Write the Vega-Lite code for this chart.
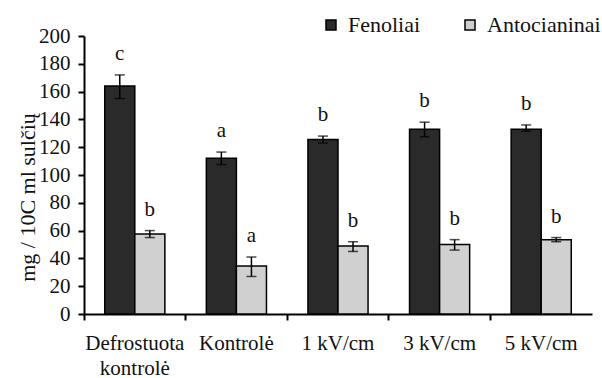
{
  "$schema": "https://vega.github.io/schema/vega-lite/v6.json",
  "width": 508,
  "height": 278,
  "autosize": "none",
  "padding": {"left": 84, "top": 36, "right": 10, "bottom": 64},
  "background": "white",
  "config": {
    "view": {"stroke": null},
    "axis": {
      "labelFont": "Liberation Serif",
      "titleFont": "Liberation Serif",
      "labelColor": "#111",
      "labelOverlap": false,
      "domainColor": "#000",
      "domainWidth": 2,
      "tickColor": "#000",
      "tickWidth": 2,
      "tickSize": 6,
      "grid": false
    },
    "axisX": {"labelFontSize": 21},
    "axisY": {"labelFontSize": 21},
    "legend": {"labelFont": "Liberation Serif", "labelFontSize": 22, "labelColor": "#111"},
    "text": {"font": "Liberation Serif"}
  },
  "data": {
    "values": [
      {"cat": "Defrostuota kontrolė", "series": "Fenoliai", "value": 164, "lo": 155, "hi": 172, "letter": "c"},
      {"cat": "Defrostuota kontrolė", "series": "Antocianinai", "value": 57.5, "lo": 55, "hi": 60, "letter": "b"},
      {"cat": "Kontrolė", "series": "Fenoliai", "value": 112, "lo": 107.5, "hi": 116.5, "letter": "a"},
      {"cat": "Kontrolė", "series": "Antocianinai", "value": 34.5, "lo": 27, "hi": 41, "letter": "a"},
      {"cat": "1 kV/cm", "series": "Fenoliai", "value": 125.5, "lo": 123, "hi": 128, "letter": "b"},
      {"cat": "1 kV/cm", "series": "Antocianinai", "value": 49, "lo": 45, "hi": 52, "letter": "b"},
      {"cat": "3 kV/cm", "series": "Fenoliai", "value": 133, "lo": 127.5, "hi": 138, "letter": "b"},
      {"cat": "3 kV/cm", "series": "Antocianinai", "value": 50, "lo": 46, "hi": 53.5, "letter": "b"},
      {"cat": "5 kV/cm", "series": "Fenoliai", "value": 133, "lo": 131.5, "hi": 136, "letter": "b"},
      {"cat": "5 kV/cm", "series": "Antocianinai", "value": 53.5, "lo": 52, "hi": 55, "letter": "b"}
    ]
  },
  "encoding": {
    "x": {
      "field": "cat",
      "type": "nominal",
      "sort": ["Defrostuota kontrolė", "Kontrolė", "1 kV/cm", "3 kV/cm", "5 kV/cm"],
      "scale": {"paddingInner": 0, "paddingOuter": 0},
      "axis": {
        "title": null,
        "labelAngle": 0,
        "labelPadding": 12,
        "labelLineHeight": 25,
        "labelExpr": "datum.label == 'Defrostuota kontrolė' ? ['Defrostuota', 'kontrolė'] : datum.label",
        "bandPosition": 0
      }
    },
    "xOffset": {
      "field": "series",
      "type": "nominal",
      "sort": ["Fenoliai", "Antocianinai"],
      "scale": {"paddingInner": 0, "paddingOuter": 0.69}
    }
  },
  "layer": [
    {
      "mark": {"type": "bar", "stroke": "#000", "strokeWidth": 1.5},
      "encoding": {
        "y": {
          "field": "value",
          "type": "quantitative",
          "scale": {"domain": [0, 200], "nice": false},
          "axis": {
            "title": "mg / 10C ml sulčių",
            "titleFontSize": 22,
            "titleFontWeight": "normal",
            "titleColor": "#111",
            "titleX": -57,
            "titleY": 161,
            "titleAngle": -90,
            "titleBaseline": "middle",
            "titleAlign": "center",
            "values": [0, 20, 40, 60, 80, 100, 120, 140, 160, 180, 200],
            "labelOverlap": false,
            "labelPadding": 8
          }
        },
        "color": {
          "field": "series",
          "type": "nominal",
          "sort": ["Fenoliai", "Antocianinai"],
          "scale": {"domain": ["Fenoliai", "Antocianinai"], "range": ["#2a2a2a", "#d0d0d0"]},
          "legend": {
            "title": null,
            "orient": "none",
            "direction": "horizontal",
            "legendX": 236,
            "legendY": -22,
            "symbolType": "square",
            "symbolSize": 100,
            "symbolStrokeColor": "#000",
            "symbolStrokeWidth": 1.5,
            "labelOffset": 6,
            "columnPadding": 38
          }
        }
      }
    },
    {
      "mark": {"type": "rule", "color": "#000", "strokeWidth": 1.5},
      "encoding": {
        "y": {
          "field": "lo",
          "type": "quantitative",
          "axis": {
            "title": "mg / 10C ml sulčių",
            "titleFontSize": 22,
            "titleFontWeight": "normal",
            "titleColor": "#111",
            "titleX": -57,
            "titleY": 161,
            "titleAngle": -90,
            "titleBaseline": "middle",
            "titleAlign": "center",
            "values": [0, 20, 40, 60, 80, 100, 120, 140, 160, 180, 200],
            "labelOverlap": false,
            "labelPadding": 8
          }
        },
        "y2": {"field": "hi"}
      }
    },
    {
      "mark": {"type": "tick", "color": "#000", "thickness": 1.5, "size": 10, "orient": "horizontal"},
      "encoding": {
        "y": {
          "field": "lo",
          "type": "quantitative",
          "axis": {
            "title": "mg / 10C ml sulčių",
            "titleFontSize": 22,
            "titleFontWeight": "normal",
            "titleColor": "#111",
            "titleX": -57,
            "titleY": 161,
            "titleAngle": -90,
            "titleBaseline": "middle",
            "titleAlign": "center",
            "values": [0, 20, 40, 60, 80, 100, 120, 140, 160, 180, 200],
            "labelOverlap": false,
            "labelPadding": 8
          }
        }
      }
    },
    {
      "mark": {"type": "tick", "color": "#000", "thickness": 1.5, "size": 10, "orient": "horizontal"},
      "encoding": {
        "y": {
          "field": "hi",
          "type": "quantitative",
          "axis": {
            "title": "mg / 10C ml sulčių",
            "titleFontSize": 22,
            "titleFontWeight": "normal",
            "titleColor": "#111",
            "titleX": -57,
            "titleY": 161,
            "titleAngle": -90,
            "titleBaseline": "middle",
            "titleAlign": "center",
            "values": [0, 20, 40, 60, 80, 100, 120, 140, 160, 180, 200],
            "labelOverlap": false,
            "labelPadding": 8
          }
        }
      }
    },
    {
      "mark": {"type": "text", "font": "Liberation Serif", "fontSize": 21, "color": "#111", "baseline": "middle", "dy": -21},
      "encoding": {
        "y": {
          "field": "hi",
          "type": "quantitative",
          "axis": {
            "title": "mg / 10C ml sulčių",
            "titleFontSize": 22,
            "titleFontWeight": "normal",
            "titleColor": "#111",
            "titleX": -57,
            "titleY": 161,
            "titleAngle": -90,
            "titleBaseline": "middle",
            "titleAlign": "center",
            "values": [0, 20, 40, 60, 80, 100, 120, 140, 160, 180, 200],
            "labelOverlap": false,
            "labelPadding": 8
          }
        },
        "text": {"field": "letter"}
      }
    }
  ]
}
